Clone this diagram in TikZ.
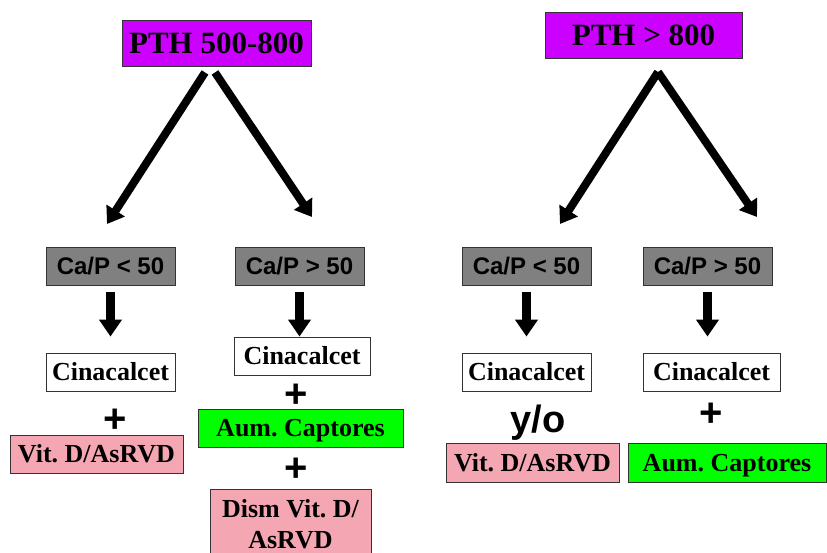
\documentclass[tikz,border=0pt]{standalone}
\usepackage{fontspec}
\setmainfont{Liberation Serif}
\setsansfont{Liberation Sans}
\usetikzlibrary{arrows.meta}
\definecolor{pthpurple}{HTML}{CC00FF}
\definecolor{capgray}{HTML}{808080}
\definecolor{vitpink}{HTML}{F4A7B3}
\definecolor{aumgreen}{HTML}{00FF00}
\frenchspacing

\begin{document}
\begin{tikzpicture}[x = 1pt, y = -1pt,
  box/.style = {draw = black!80, line width = 0.9pt, inner sep = 0pt, minimum height = 38pt, font = \fontsize{26}{31}\selectfont\bfseries},
  pth/.style = {box, fill = pthpurple, minimum height = 46pt, font = \fontsize{31}{33}\selectfont\bfseries},
  capbox/.style = {box, fill = capgray, minimum width = 129pt, font = \sffamily\fontsize{24}{26}\selectfont\bfseries},
  cin/.style = {box, fill = white},
  vit/.style = {box, fill = vitpink, minimum width = 173pt},
  aum/.style = {box, fill = aumgreen, text depth = 0pt},
  plus/.style = {inner sep = 0pt, font = \sffamily\fontsize{40}{40}\selectfont\bfseries},
  big/.style = {line width = 8pt, -{Triangle[length = 16pt, width = 21pt]}},
  down/.style = {line width = 9pt, -{Triangle[length = 17pt, width = 22pt]}}]
\clip (0,0) rectangle (827,553);

% left tree
\node [pth, minimum width = 189pt] (pth1) at (216.5,43) {PTH 500-800};
\node [capbox] (lo1) at (110.5,266) {Ca/P < 50};
\node [capbox] (hi1) at (299.5,266) {Ca/P > 50};
\node [cin, minimum width = 129pt] (cin1) at (110.5,372) {Cinacalcet};
\node [cin, minimum width = 136pt] (cin2) at (302,356) {Cinacalcet};
\node [plus] (p1) at (115,421) {+};
\node [vit] (vit1) at (96.5,454) {Vit. D/AsRVD};
\node [plus] (p2) at (296,396) {+};
\node [aum, minimum width = 205pt] (aum1) at (300.5,428) {Aum. Captores};
\node [plus] (p3) at (296,470) {+};
\node [box, fill = vitpink, minimum width = 161pt, minimum height = 70pt, align = center] (dism) at (290.5,524) {Dism Vit. D/\\AsRVD};

\coordinate (t1) at (107,224);
\coordinate (t2) at (312,217);
\draw [big] ([xshift = -11.5pt, yshift = -6pt]pth1.south) -- (t1);
\draw [big] ([xshift = -1.5pt, yshift = -6pt]pth1.south) -- (t2);
\draw [down, shorten <= 7pt, shorten >= 16pt] (lo1.south) -- (lo1.south |- cin1.north);
\draw [down, shorten <= 7pt] (hi1.south) -- (hi1.south |- cin2.north);

% right tree
\node [pth, minimum width = 197pt] (pth2) at (643.5,35) {PTH > 800};
\node [capbox] (lo2) at (526.5,266) {Ca/P < 50};
\node [capbox] (hi2) at (707.5,266) {Ca/P > 50};
\node [cin, minimum width = 129pt] (cin3) at (526.5,372) {Cinacalcet};
\node [cin, minimum width = 137pt] (cin4) at (711.5,372) {Cinacalcet};
\node [plus, font = \sffamily\fontsize{38}{38}\selectfont\bfseries] (yo) at (538,423) {y/o};
\node [vit, minimum height = 39pt] (vit2) at (532.5,462.5) {Vit. D/AsRVD};
\node [plus] (p4) at (711,415) {+};
\node [aum, minimum width = 198pt, minimum height = 39pt] (aum2) at (727,462.5) {Aum. Captores};

\coordinate (apex) at (658,72);
\coordinate (t3) at (560,224);
\coordinate (t4) at (757,217);
\draw [big] (apex) -- (t3);
\draw [big] (apex) -- (t4);
\draw [down, shorten <= 7pt, shorten >= 16pt] (lo2.south) -- (lo2.south |- cin3.north);
\draw [down, shorten <= 7pt, shorten >= 16pt] (hi2.south) -- (hi2.south |- cin4.north);
\end{tikzpicture}
\end{document}
